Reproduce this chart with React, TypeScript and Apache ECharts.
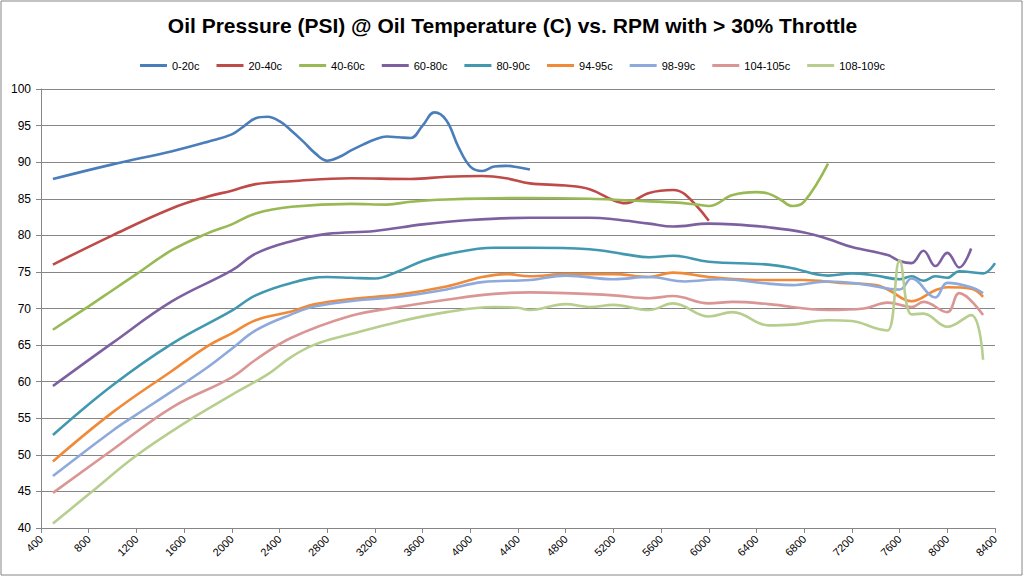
import React, { useEffect, useRef } from 'react';
import * as echarts from 'echarts';

// [rpm, psi] pairs
const s0_20: [number, number][] = [
    [500, 87.7], [1000, 89.7], [1500, 91.5], [1800, 92.8], [2000, 93.8], [2100, 94.9], [2200, 96.0],
    [2300, 96.2], [2400, 95.6], [2500, 94.3], [2600, 92.8], [2700, 91.2], [2800, 90.2], [2900, 90.7],
    [3000, 91.6], [3100, 92.4], [3200, 93.1], [3300, 93.5], [3400, 93.4], [3500, 93.3], [3600, 95.0],
    [3700, 96.8], [3800, 95.7], [3900, 92.1], [4000, 89.4], [4100, 88.8], [4200, 89.4], [4300, 89.5],
    [4400, 89.3], [4500, 89.0]
];
const s20_40: [number, number][] = [
    [500, 76.0], [1000, 80.0], [1500, 83.7], [1800, 85.3], [2000, 86.1], [2200, 87.0], [2500, 87.4],
    [3000, 87.8], [3500, 87.7], [3800, 88.0], [4100, 88.1], [4300, 87.8], [4500, 87.1], [4800, 86.8],
    [5000, 86.3], [5200, 84.8], [5300, 84.4], [5500, 85.8], [5700, 86.2], [5800, 85.6], [6000, 82.0]
];
const s40_60: [number, number][] = [
    [500, 67.1], [800, 70.3], [1000, 72.5], [1200, 74.7], [1500, 78.0], [1800, 80.3], [2000, 81.5],
    [2200, 83.0], [2500, 83.9], [3000, 84.3], [3300, 84.2], [3500, 84.6], [3800, 84.9], [4500, 85.1],
    [5000, 85.0], [5300, 84.8], [5700, 84.5], [5900, 84.2], [6000, 84.0], [6200, 85.5], [6400, 85.9],
    [6500, 85.7], [6600, 84.9], [6700, 84.0], [6800, 84.6], [7000, 89.8]
];
const s60_80: [number, number][] = [
    [500, 59.4], [1000, 65.3], [1500, 71.0], [2000, 75.2], [2200, 77.5], [2500, 79.2], [2800, 80.2],
    [3200, 80.6], [3600, 81.5], [4000, 82.1], [4500, 82.4], [5000, 82.4], [5200, 82.2], [5500, 81.6],
    [5700, 81.2], [6000, 81.6], [6200, 81.5], [6500, 81.1], [6800, 80.4], [7000, 79.5], [7200, 78.4],
    [7500, 77.3], [7600, 76.5], [7700, 76.2], [7800, 77.9], [7900, 75.8], [8000, 77.6], [8100, 75.6],
    [8200, 78.2]
];
const s80_90: [number, number][] = [
    [500, 52.7], [1000, 59.5], [1500, 65.2], [2000, 69.7], [2200, 71.8], [2500, 73.5], [2800, 74.3],
    [3000, 74.2], [3200, 74.1], [3400, 75.1], [3600, 76.5], [3800, 77.4], [4200, 78.3], [4500, 78.3],
    [5000, 78.1], [5300, 77.4], [5500, 77.0], [5700, 77.2], [6000, 76.4], [6500, 76.0], [6700, 75.5],
    [7000, 74.5], [7200, 74.8], [7400, 74.5], [7600, 74.0], [7700, 74.4], [7800, 73.8], [7900, 74.4],
    [8000, 74.2], [8100, 75.1], [8300, 74.8], [8400, 76.2]
];
const s94_95: [number, number][] = [
    [500, 49.1], [1000, 55.8], [1500, 61.5], [1800, 64.9], [2000, 66.6], [2200, 68.4], [2500, 69.6],
    [2700, 70.6], [3000, 71.3], [3400, 71.9], [3800, 73.0], [4100, 74.3], [4300, 74.7], [4500, 74.4],
    [4800, 74.7], [5200, 74.7], [5500, 74.3], [5700, 74.9], [6000, 74.3], [6400, 73.9], [6800, 73.9],
    [7100, 73.5], [7400, 73.2], [7500, 72.6], [7700, 71.0], [7900, 72.5], [8000, 72.9], [8200, 72.7],
    [8300, 71.6]
];
const s98_99: [number, number][] = [
    [500, 47.1], [1000, 53.3], [1200, 55.5], [1500, 58.7], [1800, 62.0], [2000, 64.5], [2200, 67.0],
    [2500, 69.2], [2700, 70.3], [3100, 71.2], [3400, 71.6], [3800, 72.6], [4100, 73.6], [4500, 73.9],
    [4800, 74.5], [5200, 74.0], [5500, 74.3], [5800, 73.7], [6100, 74.0], [6500, 73.4], [6700, 73.2],
    [7000, 73.7], [7300, 73.3], [7600, 72.6], [7700, 74.1], [7900, 71.5], [8000, 73.5], [8200, 72.9],
    [8300, 72.1]
];
const s104_105: [number, number][] = [
    [500, 44.8], [1000, 50.7], [1500, 56.5], [2000, 60.6], [2200, 63.0], [2500, 66.0], [3000, 69.0],
    [3400, 70.2], [3800, 71.2], [4200, 72.0], [4500, 72.2], [4800, 72.1], [5200, 71.8], [5500, 71.4],
    [5700, 71.7], [6000, 70.7], [6200, 70.9], [6500, 70.6], [7000, 69.8], [7300, 70.0], [7500, 70.8],
    [7700, 70.2], [7800, 70.9], [8000, 69.5], [8100, 72.1], [8300, 69.1]
];
const s108_109: [number, number][] = [
    [500, 40.6], [800, 44.6], [1200, 49.9], [1600, 54.3], [2000, 58.2], [2300, 61.0], [2500, 63.4],
    [2700, 65.1], [3000, 66.5], [3400, 68.2], [3800, 69.5], [4200, 70.2], [4400, 70.1], [4500, 69.8],
    [4800, 70.6], [5000, 70.2], [5200, 70.5], [5500, 69.8], [5700, 70.7], [6000, 68.9], [6200, 69.5],
    [6500, 67.7], [6700, 67.8], [7000, 68.4], [7200, 68.3], [7400, 67.3], [7500, 67.0], [7600, 76.6],
    [7700, 69.2], [7800, 69.3], [8000, 67.5], [8200, 69.1], [8300, 63.0]
];

const seriesNames = ['0-20c', '20-40c', '40-60c', '60-80c', '80-90c', '94-95c', '98-99c', '104-105c', '108-109c'];
const seriesData = [s0_20, s20_40, s40_60, s60_80, s80_90, s94_95, s98_99, s104_105, s108_109];
const seriesColors = ['#4A7EBB', '#BE4B48', '#98B954', '#7D60A0', '#4198AF', '#F08A38', '#8EA9DB', '#D99694', '#B7CE8E'];

const App: React.FC = () => {
    const chartRef = useRef<HTMLDivElement>(null);

    useEffect(() => {
        if (!chartRef.current) return;
        document.body.style.margin = '0';

        const myChart = echarts.init(chartRef.current, undefined, { renderer: 'svg' });
        const font = 'Liberation Sans, Arial, sans-serif';

        const option: echarts.EChartsOption = {
            animation: false,
            backgroundColor: '#ffffff',
            textStyle: { fontFamily: font },
            title: {
                text: 'Oil Pressure (PSI) @ Oil Temperature (C) vs. RPM with > 30% Throttle',
                left: 'center',
                top: 10,
                textStyle: { fontSize: 21, fontWeight: 'bold', color: '#000', fontFamily: font }
            },
            legend: {
                data: seriesNames,
                top: 55,
                left: 'center',
                icon: 'rect',
                itemWidth: 27,
                itemHeight: 3,
                itemGap: 17,
                textStyle: { fontSize: 11, color: '#000', fontFamily: font }
            },
            graphic: [
                {
                    type: 'rect',
                    shape: { x: 1, y: 1, width: 1021, height: 574 },
                    style: { fill: 'none', stroke: '#868686', lineWidth: 1 },
                    silent: true
                }
            ],
            grid: { left: 41, right: 30, top: 89, bottom: 49 },
            xAxis: {
                type: 'value',
                min: 400,
                max: 8400,
                interval: 400,
                axisLine: { lineStyle: { color: '#868686' } },
                axisTick: { show: true, length: 5, lineStyle: { color: '#868686' } },
                splitLine: { show: false },
                axisLabel: {
                    rotate: 45,
                    fontSize: 11,
                    color: '#000',
                    margin: 9,
                    fontFamily: font,
                    formatter: (v: number) => String(v)
                }
            },
            yAxis: {
                type: 'value',
                min: 40,
                max: 100,
                interval: 5,
                axisLine: { show: true, lineStyle: { color: '#868686' } },
                axisTick: { show: true, length: 5, lineStyle: { color: '#868686' } },
                splitLine: { show: true, lineStyle: { color: '#868686', width: 1 } },
                axisLabel: { fontSize: 12, color: '#000', margin: 10, fontFamily: font }
            },
            series: seriesNames.map((name, i) => ({
                name,
                type: 'line',
                data: seriesData[i],
                smooth: 0.4,
                symbol: 'none',
                lineStyle: { width: 2.6, color: seriesColors[i] },
                itemStyle: { color: seriesColors[i] }
            }))
        };

        myChart.setOption(option);

        return () => {
            myChart.dispose();
        };
    }, []);

    return <div ref={chartRef} style={{ width: '1025px', height: '577px' }} />;
};

export default App;
